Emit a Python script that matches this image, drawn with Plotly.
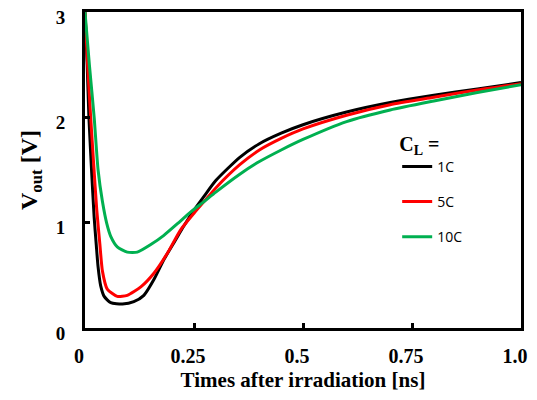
import plotly.graph_objects as go

# ---- data ----
series_names = ["1C", "5C", "10C"]
series_colors = ["#000000", "#FF0000", "#00B050"]

t_1C = [0, 0.005, 0.009, 0.015, 0.021, 0.026, 0.03, 0.036, 0.044, 0.059, 0.086, 0.112,
        0.135, 0.158, 0.181, 0.204, 0.227, 0.25, 0.273, 0.3, 0.355, 0.4, 0.45, 0.5,
        0.6, 0.7, 0.8, 0.9, 1.0]
v_1C = [3.0, 2.5, 2.0, 1.5, 1.05, 0.78, 0.58, 0.40, 0.30, 0.24, 0.228, 0.25,
        0.31, 0.46, 0.65, 0.81, 0.97, 1.12, 1.25, 1.40, 1.62, 1.75, 1.85, 1.93,
        2.05, 2.14, 2.21, 2.27, 2.33]

t_5C = [0, 0.006, 0.013, 0.02, 0.027, 0.034, 0.04, 0.051, 0.074, 0.097, 0.128, 0.158,
        0.189, 0.219, 0.25, 0.273, 0.3, 0.355, 0.4, 0.45, 0.5, 0.6, 0.7, 0.8, 0.9, 1.0]
v_5C = [3.0, 2.5, 2.0, 1.55, 1.12, 0.80, 0.54, 0.37, 0.30, 0.31, 0.39, 0.52,
        0.71, 0.93, 1.09, 1.20, 1.33, 1.55, 1.69, 1.80, 1.89, 2.02, 2.12, 2.19, 2.26, 2.32]

t_10C = [0, 0.01, 0.021, 0.03, 0.04, 0.05, 0.059, 0.074, 0.097, 0.12, 0.15, 0.181,
         0.212, 0.242, 0.273, 0.3, 0.355, 0.4, 0.45, 0.5, 0.6, 0.7, 0.8, 0.9, 1.0]
v_10C = [3.0, 2.5, 2.0, 1.5, 1.2, 0.99, 0.87, 0.77, 0.72, 0.72, 0.79, 0.88,
         0.99, 1.10, 1.20, 1.29, 1.46, 1.58, 1.69, 1.79, 1.96, 2.07, 2.155, 2.235, 2.31]

x_tickvals = [0, 0.25, 0.5, 0.75, 1.0]
x_ticktext = ["0", "0.25", "0.5", "0.75", "1.0"]
y_tickvals = [0, 1, 2, 3]
y_ticktext = ["0", "1", "2", "3"]

x_title = "Times after irradiation [ns]"
y_title = "V<sub>out</sub> [V]"
legend_title = "C<sub>L</sub> ="

serif = "Liberation Serif, Times New Roman, serif"
sans = "Open Sans, Liberation Sans, sans-serif"

fig = go.Figure()
for name, color, tx, vy in zip(series_names, series_colors,
                               [t_1C, t_5C, t_10C], [v_1C, v_5C, v_10C]):
    fig.add_trace(go.Scatter(
        x=tx, y=vy, mode="lines", name=name, legendgroup=name,
        line=dict(color=color, width=3, shape="spline", smoothing=0.6),
    ))

axis_common = dict(
    showline=True, linecolor="black", linewidth=3, mirror=True,
    ticks="inside", ticklen=5, tickwidth=3, tickcolor="black",
    showgrid=False, zeroline=False, automargin=False,
    ticklabeloverflow="allow",
)

# the page body adds an 8 px margin, so the figure is smaller and margins shifted
fig.update_layout(
    width=529, height=384,
    margin=dict(l=77, r=16, t=4, b=64),
    paper_bgcolor="white", plot_bgcolor="white",
    xaxis=dict(range=[0, 1.0], tickvals=x_tickvals, ticktext=x_ticktext,
               ticklabelstandoff=8, ticklabelshift=-6,
               tickfont=dict(family=serif, size=20, color="black", weight="bold"),
               title=dict(text=x_title, standoff=11,
                          font=dict(family=serif, size=21, color="black", weight="bold")),
               **axis_common),
    yaxis=dict(range=[0, 3], tickvals=y_tickvals, ticktext=y_ticktext,
               ticklabelstandoff=13, ticklabelshift=5,
               tickfont=dict(family=serif, size=19, color="black", weight="bold"),
               title=dict(text=y_title, standoff=12,
                          font=dict(family=serif, size=24, color="black", weight="bold")),
               **axis_common),
    legend=dict(
        x=0.716, y=0.643, xanchor="left", yanchor="top",
        bgcolor="rgba(0,0,0,0)", traceorder="grouped", tracegroupgap=14,
        font=dict(family=sans, size=14, color="black"),
        title=dict(text=legend_title,
                   font=dict(family=serif, size=20, color="black", weight="bold")),
    ),
)

fig.write_html("out.html")
